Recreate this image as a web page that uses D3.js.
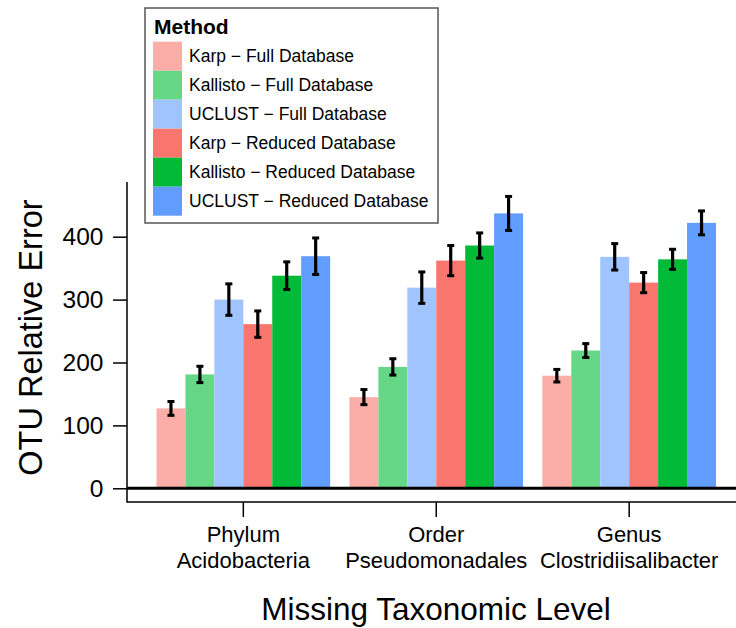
<!DOCTYPE html>
<html>
<head>
<meta charset="utf-8">
<script src="https://cdn.jsdelivr.net/npm/d3@7"></script>
<style>
  body { margin: 0; background: #fff; }
  svg text { font-family: "Liberation Sans", Arial, Helvetica, sans-serif; }
</style>
</head>
<body>
<svg id="otu-error" width="736" height="628"></svg>
<script>
var groups = ["Phylum\nAcidobacteria", "Order\nPseudomonadales", "Genus\nClostridiisalibacter"];
var methods = ["Karp \u2212 Full Database", "Kallisto \u2212 Full Database", "UCLUST \u2212 Full Database",
               "Karp \u2212 Reduced Database", "Kallisto \u2212 Reduced Database", "UCLUST \u2212 Reduced Database"];
var colors = ["#fbada7", "#66d687", "#a0c4ff", "#f8766d", "#00ba38", "#619cff"];

// mean relative error per group, one array per method
var karpFull      = [127, 145, 179];
var kallistoFull  = [181, 193, 219];
var uclustFull    = [300, 319, 368];
var karpReduced   = [261, 362, 327];
var kallistoRed   = [338, 386, 364];
var uclustReduced = [369, 437, 422];

// half-width of the error bars
var karpFullErr      = [11, 12, 10];
var kallistoFullErr  = [13, 13, 11];
var uclustFullErr    = [25, 25, 21];
var karpReducedErr   = [21, 24, 16];
var kallistoRedErr   = [22, 20, 16];
var uclustReducedErr = [29, 27, 19];

var yTicks = [0, 100, 200, 300, 400];

var means = [karpFull, kallistoFull, uclustFull, karpReduced, kallistoRed, uclustReduced];
var errs  = [karpFullErr, kallistoFullErr, uclustFullErr, karpReducedErr, kallistoRedErr, uclustReducedErr];

var rows = [];
groups.forEach(function (g, gi) {
  methods.forEach(function (m, mi) {
    rows.push({group: g, method: m, value: means[mi][gi], err: errs[mi][gi], color: colors[mi]});
  });
});

var svg = d3.select("svg#otu-error");

var x0 = d3.scaleBand().domain(groups).range([156.5, 716]).paddingInner(0.1).paddingOuter(0);
var x1 = d3.scaleBand().domain(methods).range([0, x0.bandwidth()]);
var y = d3.scaleLinear().domain([0, 400]).range([488.3, 236.7]);

// bars
svg.append("g").selectAll("rect")
   .data(rows)
   .enter().append("rect")
   .attr("x", function (d) { return x0(d.group) + x1(d.method); })
   .attr("y", function (d) { return y(d.value); })
   .attr("width", x1.bandwidth())
   .attr("height", function (d) { return y(0) - y(d.value); })
   .attr("fill", function (d) { return d.color; });

// error bars
var eb = svg.append("g").attr("stroke", "#000").selectAll("g")
   .data(rows)
   .enter().append("g")
   .attr("transform", function (d) { return "translate(" + (x0(d.group) + x1(d.method) + x1.bandwidth() / 2) + ",0)"; });

eb.append("line")
  .attr("y1", function (d) { return y(d.value - d.err); })
  .attr("y2", function (d) { return y(d.value + d.err); })
  .attr("stroke-width", 3.2);
eb.selectAll(".cap")
  .data(function (d) { return [d.value - d.err, d.value + d.err]; })
  .enter().append("line")
  .attr("class", "cap")
  .attr("x1", -3.5).attr("x2", 3.5)
  .attr("y1", function (v) { return y(v); })
  .attr("y2", function (v) { return y(v); })
  .attr("stroke-width", 3);

// zero line
svg.append("line")
   .attr("x1", 127).attr("x2", 736)
   .attr("y1", y(0)).attr("y2", y(0))
   .attr("stroke", "#000").attr("stroke-width", 3);

// y axis
var yAxis = svg.append("g")
   .attr("transform", "translate(127,0)")
   .call(d3.axisLeft(y).tickValues(yTicks).tickSize(14).tickPadding(9.5));
yAxis.select(".domain").remove();
yAxis.selectAll("line").attr("stroke", "#000").attr("stroke-width", 1.5);
yAxis.selectAll("text").attr("font-size", 24.5).attr("fill", "#000")
     .attr("font-family", "Liberation Sans, Arial, sans-serif");

svg.append("path")
   .attr("d", "M127,182V502H736")
   .attr("fill", "none").attr("stroke", "#000").attr("stroke-width", 1.5);

// x axis
var xAxis = svg.append("g")
   .attr("transform", "translate(0,502)")
   .call(d3.axisBottom(x0).tickSize(15).tickFormat(""));
xAxis.select(".domain").remove();
xAxis.selectAll("line").attr("stroke", "#000").attr("stroke-width", 1.5);

var xLab = svg.append("g").selectAll("text")
   .data(groups)
   .enter().append("text")
   .attr("text-anchor", "middle")
   .attr("font-size", 22)
   .attr("x", function (d) { return x0(d) + x0.bandwidth() / 2; });
xLab.selectAll("tspan")
   .data(function (d) { return d.split("\n"); })
   .enter().append("tspan")
   .attr("x", function () { return d3.select(this.parentNode).attr("x"); })
   .attr("y", function (d, i) { return 542.3 + i * 26; })
   .text(function (d) { return d; });

svg.append("text")
   .attr("x", 436).attr("y", 620)
   .attr("text-anchor", "middle")
   .attr("font-size", 31.5)
   .text("Missing Taxonomic Level");

svg.append("text")
   .attr("transform", "translate(42,337.5) rotate(-90)")
   .attr("text-anchor", "middle")
   .attr("font-size", 32.5)
   .text("OTU Relative Error");

// legend
var legend = svg.append("g");
legend.append("rect")
   .attr("x", 145).attr("y", 8).attr("width", 293).attr("height", 215)
   .attr("fill", "#fff").attr("stroke", "#555").attr("stroke-width", 1.5);
legend.append("text")
   .attr("x", 154).attr("y", 34)
   .attr("font-size", 21).attr("font-weight", "bold")
   .text("Method");
var item = legend.selectAll(".item")
   .data(methods)
   .enter().append("g")
   .attr("class", "item")
   .attr("transform", function (d, i) { return "translate(153," + (41.7 + i * 29) + ")"; });
item.append("rect")
   .attr("width", 29).attr("height", 29)
   .attr("fill", function (d, i) { return colors[i]; });
item.append("text")
   .attr("x", 36).attr("y", 14.5).attr("dy", "0.35em")
   .attr("font-size", 17.5)
   .text(function (d) { return d; });
</script>
</body>
</html>
